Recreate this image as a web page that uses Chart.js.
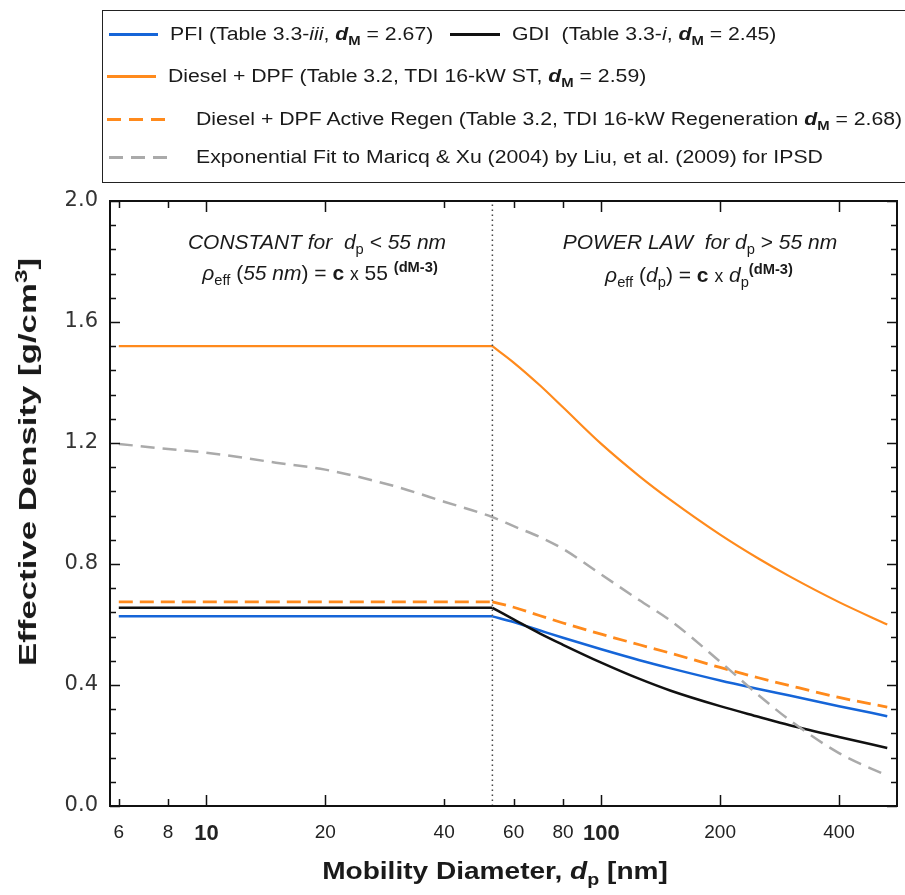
<!DOCTYPE html>
<html>
<head>
<meta charset="utf-8">
<script src="https://cdn.jsdelivr.net/npm/chart.js@4.4.1/dist/chart.umd.min.js"></script>
<style>
  body { margin: 0; background: #fff; }
  #page { position: relative; width: 905px; height: 895px; overflow: hidden; font-family: "Liberation Sans", Arial, sans-serif; color: #1a1a1a; }
  #chart { position: absolute; left: 0; top: 0; }
  .legend-box { position: absolute; left: 102px; top: 10px; width: 820px; height: 171px; border: 1.5px solid #222; border-right: none; }
  .row { position: absolute; font-size: 18px; line-height: 18px; white-space: nowrap; transform: scaleX(1.18); transform-origin: left center; }
  .swatch { position: absolute; height: 3px; }
  .note { position: absolute; font-size: 21px; line-height: 21px; white-space: nowrap; transform: translateX(-50%); }
  .ytitle { position: absolute; left: 28px; top: 462px; font-size: 24px; font-weight: bold; white-space: nowrap; transform: translate(-50%, -50%) rotate(-90deg) scaleX(1.45); }
  .xtitle { position: absolute; left: 495px; top: 858px; font-size: 23px; font-weight: bold; white-space: nowrap; transform: translateX(-50%) scaleX(1.22); }
  sub, sup { font-size: 70%; line-height: 0; }
</style>
</head>
<body>
<div id="page">
  <canvas id="chart" width="905" height="895"></canvas>

  <div class="legend-box"></div>
  <div id="legend"></div>

  <div class="note" style="left:317px; top:231px;"><i>CONSTANT for&nbsp; d</i><sub>p</sub> <i>&lt; 55 nm</i></div>
  <div class="note" style="left:320px; top:262px;"><i>&rho;</i><sub>eff</sub> (<i>55 nm</i>) = <b>c</b> <small>x</small> 55 <sup><b>(dM-3)</b></sup></div>
  <div class="note" style="left:700px; top:231px;"><i>POWER LAW&nbsp; for d</i><sub>p</sub> &gt; <i>55 nm</i></div>
  <div class="note" style="left:699px; top:264px;"><i>&rho;</i><sub>eff</sub> (<i>d</i><sub>p</sub>) = <b>c</b> <small>x</small> <i>d</i><sub>p</sub><sup><b>(dM-3)</b></sup></div>

  <div class="ytitle">Effective Density [g/cm<sup>3</sup>]</div>
  <div class="xtitle">Mobility Diameter, <i>d</i><sub>p</sub> [nm]</div>
</div>

<script>
// mobility diameter grid (nm) shared by all curves
const diameters = [6, 8, 10, 15, 20, 30, 40, 53, 60, 70, 80, 100, 125, 150, 200, 250, 300, 400, 530];

// effective density (g/cm3)
const pfi         = [0.627, 0.627, 0.627, 0.627, 0.627, 0.627, 0.627, 0.627, 0.608, 0.58, 0.556, 0.518, 0.482, 0.455, 0.415, 0.387, 0.365, 0.33, 0.297];
const gdi         = [0.655, 0.655, 0.655, 0.655, 0.655, 0.655, 0.655, 0.655, 0.617, 0.57, 0.533, 0.474, 0.42, 0.381, 0.33, 0.295, 0.267, 0.228, 0.192];
const dieselDpf   = [1.52, 1.52, 1.52, 1.52, 1.52, 1.52, 1.52, 1.52, 1.466, 1.39, 1.318, 1.197, 1.09, 1.011, 0.897, 0.818, 0.759, 0.674, 0.6];
const dieselRegen = [0.675, 0.675, 0.675, 0.675, 0.675, 0.675, 0.675, 0.675, 0.657, 0.629, 0.605, 0.568, 0.533, 0.505, 0.458, 0.424, 0.398, 0.359, 0.327];
const liuFit      = [1.197, 1.18, 1.168, 1.135, 1.112, 1.057, 1.006, 0.955, 0.925, 0.889, 0.85, 0.765, 0.68, 0.612, 0.477, 0.367, 0.284, 0.175, 0.10];

const cutoffDiameter = 53;
const xTicks = [6, 8, 10, 20, 40, 60, 80, 100, 200, 400];
const xBoldTicks = [10, 100];
const yTicks = [0, 0.4, 0.8, 1.2, 1.6, 2.0];
const yMinorStep = 0.08;

const BLUE = '#1565d8', ORANGE = '#ff8a1c', BLACK = '#111111', GRAY = '#aaaaaa';

const legendRows = [
  [
    { color: BLUE, dash: false, html: 'PFI (Table 3.3-<i>iii</i>, <b><i>d</i><sub>M</sub></b> = 2.67)' },
    { color: BLACK, dash: false, html: 'GDI&nbsp; (Table 3.3-<i>i</i>, <b><i>d</i><sub>M</sub></b> = 2.45)' }
  ],
  [ { color: ORANGE, dash: false, html: 'Diesel + DPF (Table 3.2, TDI 16-kW ST, <b><i>d</i><sub>M</sub></b> = 2.59)' } ],
  [ { color: ORANGE, dash: true, html: 'Diesel + DPF Active Regen (Table 3.2, TDI 16-kW Regeneration <b><i>d</i><sub>M</sub></b> = 2.68)' } ],
  [ { color: GRAY, dash: true, html: 'Exponential Fit to Maricq &amp; Xu (2004) by Liu, et al. (2009) for IPSD' } ]
];

const pts = (vals, keep) => diameters.map((d, i) => ({ x: d, y: vals[i] })).filter(p => keep(p.x));
const flat = (vals) => pts(vals, d => d <= cutoffDiameter);
const curve = (vals) => pts(vals, d => d >= cutoffDiameter);

// html legend (layout is too custom for the built-in one)
const legendEl = document.getElementById('legend');
const rowTops = [25, 67, 110, 148];
const rowLayout = [[109, 450], [107], [107], [109]];
const textGap = [[61, 62], [61], [89], [87]];
const swatchW = [[49, 50], [49], [62], [60]];
legendRows.forEach((row, r) => {
  row.forEach((item, k) => {
    const sw = document.createElement('div');
    sw.className = 'swatch';
    sw.style.left = rowLayout[r][k] + 'px';
    sw.style.top = (rowTops[r] + 8) + 'px';
    sw.style.width = swatchW[r][k] + 'px';
    sw.style.background = item.dash
      ? `repeating-linear-gradient(to right, ${item.color} 0 14px, transparent 14px 22px)`
      : item.color;
    legendEl.appendChild(sw);
    const tx = document.createElement('div');
    tx.className = 'row';
    tx.style.left = (rowLayout[r][k] + textGap[r][k]) + 'px';
    tx.style.top = rowTops[r] + 'px';
    tx.innerHTML = item.html;
    legendEl.appendChild(tx);
  });
});

// frame + inward ticks on all four sides
const frameTicks = {
  id: 'frameTicks',
  afterDatasetsDraw(chart) {
    const { ctx, chartArea: a, scales: { x, y } } = chart;
    ctx.save();
    ctx.strokeStyle = '#111';
    ctx.lineWidth = 1.5;
    for (let i = 0; i * yMinorStep <= 2.0001; i++) {
      const py = Math.round(y.getPixelForValue(i * yMinorStep)) + 0.5;
      const len = i % 5 === 0 ? 10 : 6;
      ctx.beginPath();
      ctx.moveTo(a.left, py); ctx.lineTo(a.left + len, py);
      ctx.moveTo(a.right, py); ctx.lineTo(a.right - len, py);
      ctx.stroke();
    }
    xTicks.forEach(v => {
      const px = Math.round(x.getPixelForValue(v)) + 0.5;
      const len = [10, 20, 100, 200, 400].includes(v) ? 11 : 7;
      ctx.beginPath();
      ctx.moveTo(px, a.bottom); ctx.lineTo(px, a.bottom - len);
      ctx.moveTo(px, a.top); ctx.lineTo(px, a.top + len);
      ctx.stroke();
    });
    ctx.lineWidth = 2;
    ctx.strokeRect(a.left, a.top, a.right - a.left, a.bottom - a.top);
    ctx.restore();
  }
};

// each measured curve = flat part below the cutoff + power-law part above it
function series(vals, color, width, dash) {
  const base = { borderColor: color, borderWidth: width, borderDash: dash || [], pointRadius: 0 };
  return [
    Object.assign({ data: flat(vals), tension: 0 }, base),
    Object.assign({ data: curve(vals), cubicInterpolationMode: 'monotone' }, base)
  ];
}

new Chart(document.getElementById('chart'), {
  type: 'line',
  data: {
    datasets: [
      { label: 'cutoff', data: [{ x: cutoffDiameter, y: 0 }, { x: cutoffDiameter, y: 2 }],
        borderColor: '#444', borderWidth: 1.5, borderDash: [1.5, 3.5], pointRadius: 0 },
      { label: 'Liu fit', data: pts(liuFit, () => true), borderColor: GRAY, borderWidth: 2.5,
        borderDash: [14, 8], pointRadius: 0, cubicInterpolationMode: 'monotone' },
      ...series(dieselDpf, ORANGE, 2.2),
      ...series(dieselRegen, ORANGE, 2.8, [14, 7]),
      ...series(gdi, BLACK, 2.5),
      ...series(pfi, BLUE, 2.5)
    ]
  },
  options: {
    responsive: false,
    animation: false,
    layout: { padding: { left: 0, top: 201, right: 8, bottom: 0 } },
    plugins: { legend: { display: false }, tooltip: { enabled: false } },
    scales: {
      x: {
        type: 'logarithmic',
        min: 5.7,
        max: 561,
        grid: { display: false, drawTicks: false },
        border: { display: false },
        afterBuildTicks: (s) => { s.ticks = xTicks.map(v => ({ value: v })); },
        afterFit: (s) => { s.height = 89; },
        ticks: {
          autoSkip: false,
          maxRotation: 0,
          padding: 15,
          color: '#222',
          callback: (v) => String(v),
          font: (c) => xBoldTicks.includes(c.tick && c.tick.value)
            ? { family: 'Liberation Sans', size: 22, weight: 'bold' }
            : { family: 'Liberation Sans', size: 19 }
        }
      },
      y: {
        min: 0,
        max: 2,
        grid: { display: false, drawTicks: false },
        border: { display: false },
        afterBuildTicks: (s) => { s.ticks = yTicks.map(v => ({ value: v })); },
        afterFit: (s) => { s.width = 110; },
        ticks: {
          padding: 12,
          color: '#333',
          font: { family: 'DejaVu Sans', size: 21 },
          callback: (v) => v.toFixed(1)
        }
      }
    }
  },
  plugins: [frameTicks]
});
</script>
</body>
</html>
